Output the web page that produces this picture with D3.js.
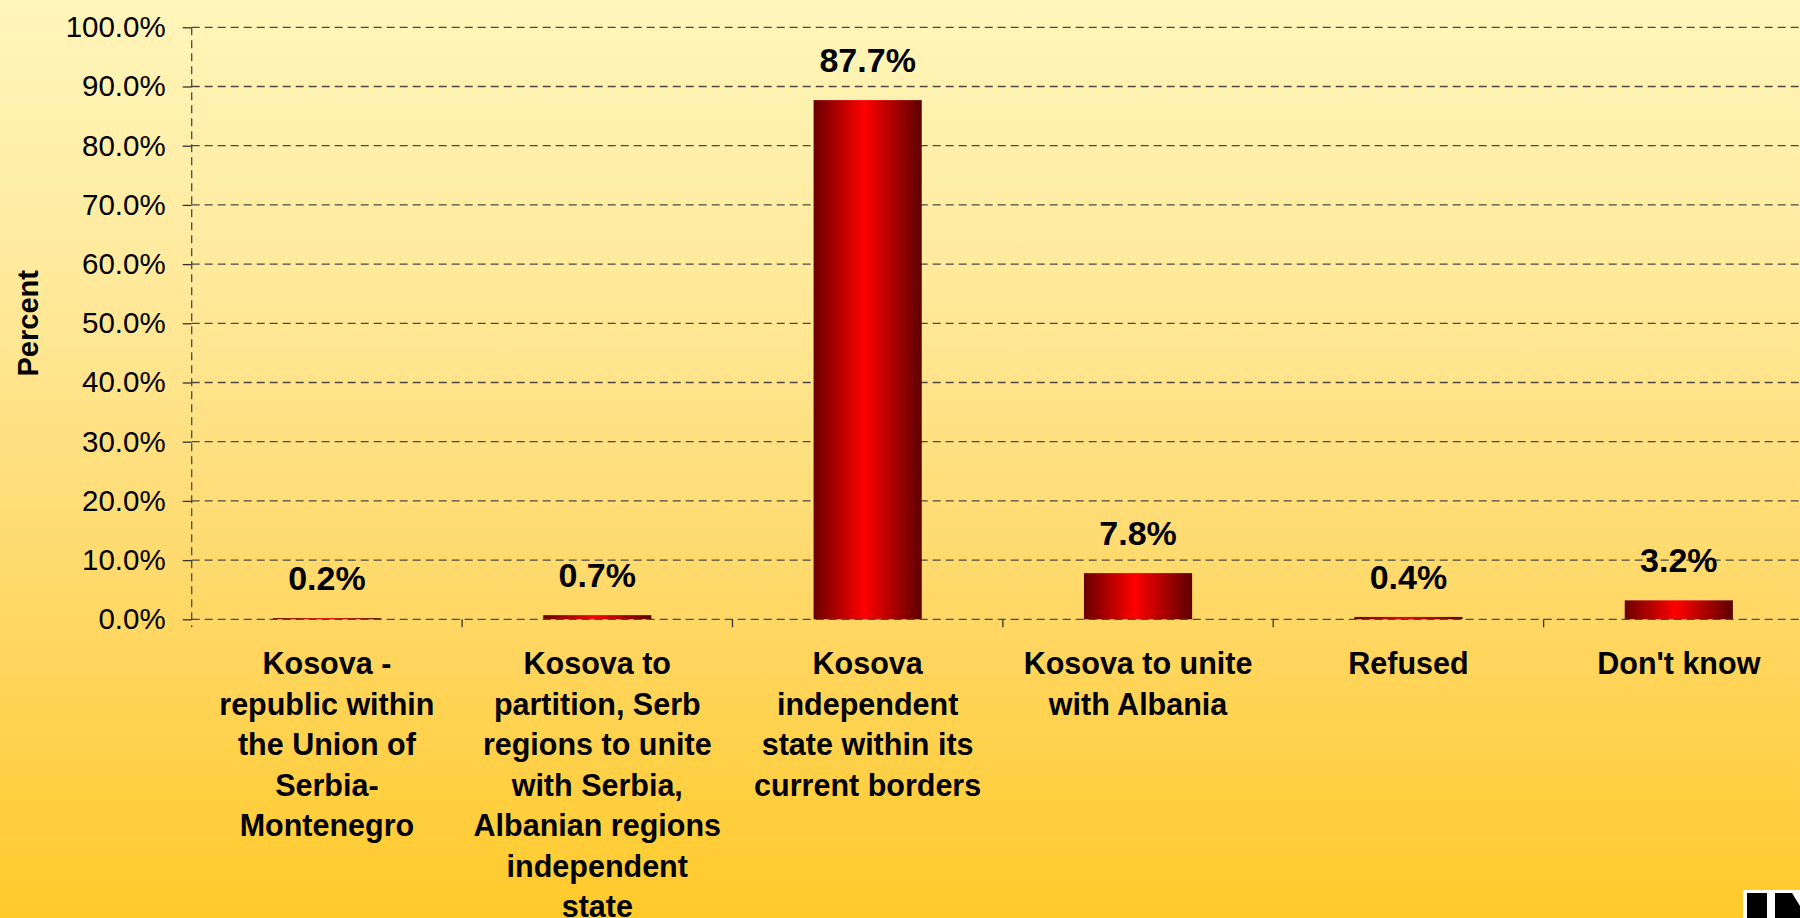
<!DOCTYPE html>
<html>
<head>
<meta charset="utf-8">
<script src="https://cdn.jsdelivr.net/npm/d3@7"></script>
<style>
  html, body { margin: 0; padding: 0; background: #ffe68c; overflow: hidden; }
  svg { display: block; font-family: Arial, "Liberation Sans", sans-serif; }
</style>
</head>
<body>
<div id="chart"></div>
<script>
// survey answers
const categories = [
    'Kosova - republic within the Union of Serbia-Montenegro',
    'Kosova to partition, Serb regions to unite with Serbia, Albanian regions independent state',
    'Kosova independent state within its current borders',
    'Kosova to unite with Albania',
    'Refused',
    "Don't know",
];
const categoryLines = [
    ['Kosova -', 'republic within', 'the Union of', 'Serbia-', 'Montenegro'],
    ['Kosova to', 'partition, Serb', 'regions to unite', 'with Serbia,', 'Albanian regions', 'independent', 'state'],
    ['Kosova', 'independent', 'state within its', 'current borders'],
    ['Kosova to unite', 'with Albania'],
    ['Refused'],
    ["Don't know"],
];
const values = [0.2, 0.7, 87.7, 7.8, 0.4, 3.2];
const yTicks = [0, 10, 20, 30, 40, 50, 60, 70, 80, 90, 100];
const yLabel = 'Percent';

const WIDTH = 1800;
const HEIGHT = 918;
const MARGIN = { TOP: 27.3, LEFT: 191.7 };
const PLOT_BOTTOM = 619.3;
const PLOT_RIGHT = 1814;

const svg = d3.select('#chart')
    .append('svg')
    .attr('width', WIDTH)
    .attr('height', HEIGHT);

const defs = svg.append('defs');

const bg = defs.append('linearGradient')
    .attr('id', 'bg')
    .attr('x1', 0).attr('y1', 0).attr('x2', 0).attr('y2', 1);
[[0, '#fff6ba'], [0.27, '#ffeba0'], [0.52, '#ffdf7c'], [0.7, '#ffd660'], [1, '#ffca2a']]
    .forEach(([o, c]) => bg.append('stop').attr('offset', o).attr('stop-color', c));

const barFill = defs.append('linearGradient')
    .attr('id', 'barFill')
    .attr('x1', 0).attr('y1', 0).attr('x2', 1).attr('y2', 0);
[[0, '#6a0000'], [0.47, '#ff0000'], [1, '#5c0000']]
    .forEach(([o, c]) => barFill.append('stop').attr('offset', o).attr('stop-color', c));

svg.append('rect')
    .attr('width', WIDTH)
    .attr('height', HEIGHT)
    .attr('fill', 'url(#bg)');

const xScale = d3.scaleBand()
    .domain(categories)
    .range([MARGIN.LEFT, PLOT_RIGHT])
    .paddingInner(0.6)
    .paddingOuter(0.3);

const yScale = d3.scaleLinear()
    .domain([0, 100])
    .range([PLOT_BOTTOM, MARGIN.TOP]);

const step = xScale.step();
const centre = (c) => xScale(c) + xScale.bandwidth() / 2;

// gridlines (behind the bars)
svg.append('g')
    .selectAll('line')
    .data(yTicks.filter((t) => t > 0))
    .join('line')
    .attr('x1', MARGIN.LEFT)
    .attr('x2', WIDTH)
    .attr('y1', (d) => yScale(d))
    .attr('y2', (d) => yScale(d))
    .attr('stroke', '#4a4a40')
    .attr('stroke-width', 1.3)
    .attr('stroke-dasharray', '8,5');

// y axis
const yAxis = svg.append('g')
    .attr('transform', `translate(${MARGIN.LEFT},0)`)
    .call(d3.axisLeft(yScale)
        .tickValues(yTicks)
        .tickSize(9)
        .tickPadding(17)
        .tickFormat((d) => d3.format('.1%')(d / 100)));
yAxis.select('.domain').remove();
yAxis.selectAll('.tick line').attr('stroke', '#333').attr('stroke-width', 1.3);
yAxis.selectAll('.tick text')
    .attr('fill', '#000')
    .attr('font-size', 29.5)
    .attr('font-family', 'Arial, "Liberation Sans", sans-serif');

// bars
svg.append('g')
    .selectAll('rect')
    .data(values)
    .join('rect')
    .attr('x', (d, i) => xScale(categories[i]))
    .attr('width', xScale.bandwidth())
    .attr('y', (d) => yScale(d))
    .attr('height', (d) => yScale(0) - yScale(d))
    .attr('fill', 'url(#barFill)');

// zero line and dashed vertical axis on top
svg.append('line')
    .attr('x1', MARGIN.LEFT).attr('x2', WIDTH)
    .attr('y1', yScale(0)).attr('y2', yScale(0))
    .attr('stroke', '#4a4a40')
    .attr('stroke-width', 1.3)
    .attr('stroke-dasharray', '8,5');

svg.append('line')
    .attr('x1', MARGIN.LEFT).attr('x2', MARGIN.LEFT)
    .attr('y1', yScale(100)).attr('y2', yScale(0) + 8)
    .attr('stroke', '#4a4a40')
    .attr('stroke-width', 1.3)
    .attr('stroke-dasharray', '8,5');

// category boundary ticks
svg.append('g')
    .selectAll('line')
    .data(categories)
    .join('line')
    .attr('x1', (c) => centre(c) + step / 2)
    .attr('x2', (c) => centre(c) + step / 2)
    .attr('y1', yScale(0))
    .attr('y2', yScale(0) + 8)
    .attr('stroke', '#333')
    .attr('stroke-width', 1.3);

// value labels
svg.append('g')
    .selectAll('text')
    .data(values)
    .join('text')
    .attr('x', (d, i) => centre(categories[i]))
    .attr('y', (d) => yScale(d) - 28)
    .attr('text-anchor', 'middle')
    .attr('font-weight', 'bold')
    .attr('font-size', 34)
    .attr('fill', '#000')
    .text((d) => `${d3.format('.1f')(d)}%`);

// category labels
const catLabels = svg.append('g')
    .selectAll('text')
    .data(categories)
    .join('text')
    .attr('x', (c) => centre(c))
    .attr('y', 674)
    .attr('text-anchor', 'middle')
    .attr('font-weight', 'bold')
    .attr('font-size', 30.5)
    .attr('fill', '#000');

catLabels.selectAll('tspan')
    .data((c, i) => categoryLines[i])
    .join('tspan')
    .attr('x', function () { return d3.select(this.parentNode).attr('x'); })
    .attr('dy', (d, j) => (j === 0 ? 0 : 40.5))
    .text((d) => d);

// y axis title
svg.append('text')
    .attr('transform', `translate(38, ${(yScale(0) + yScale(100)) / 2}) rotate(-90)`)
    .attr('text-anchor', 'middle')
    .attr('font-weight', 'bold')
    .attr('font-size', 29)
    .attr('fill', '#000')
    .text(yLabel);

// corner of the logo, cut by the frame
const logo = svg.append('g');
logo.append('rect')
    .attr('x', 1743).attr('y', 890)
    .attr('width', 60).attr('height', 30)
    .attr('fill', '#fff');
logo.append('rect')
    .attr('x', 1747).attr('y', 893)
    .attr('width', 20).attr('height', 30)
    .attr('fill', '#000');
logo.append('path')
    .attr('d', 'M1775,893 L1792,893 L1800,906 L1800,920 L1775,920 Z')
    .attr('fill', '#000');
</script>
</body>
</html>
